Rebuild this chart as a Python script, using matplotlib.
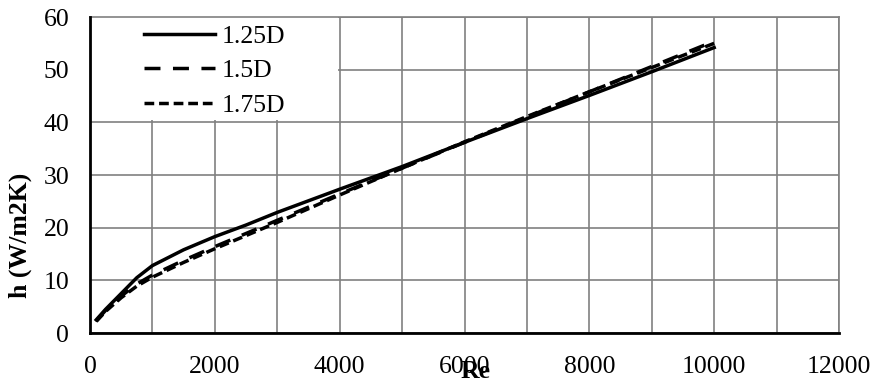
import matplotlib
matplotlib.use("Agg")
import matplotlib.pyplot as plt
from matplotlib.patches import Rectangle

re_vals = [100, 250, 500, 750, 1000, 1500, 2000, 2500, 3000, 3500, 4000, 5000, 6000, 7000, 8000, 9000, 10000]
h_125 = [2.5, 4.5, 7.5, 10.5, 12.8, 15.8, 18.3, 20.5, 22.9, 25.1, 27.3, 31.6, 36.2, 40.7, 45.1, 49.6, 54.2]
h_150 = [2.3, 4.3, 7.0, 9.3, 11.0, 13.8, 16.4, 18.9, 21.4, 23.9, 26.4, 31.3, 36.2, 41.0, 45.8, 50.6, 55.4]
h_175 = [2.2, 4.1, 6.7, 8.9, 10.6, 13.4, 16.0, 18.5, 21.0, 23.6, 26.2, 31.3, 36.3, 41.1, 45.8, 50.4, 55.0]
labels = ["1.25D", "1.5D", "1.75D"]
x_ticks = [0, 2000, 4000, 6000, 8000, 10000, 12000]
y_ticks = [0, 10, 20, 30, 40, 50, 60]

plt.rcParams['font.family'] = ['Liberation Serif', 'DejaVu Serif']
FS = 18.5

fig = plt.figure(figsize=(8.75, 3.81), dpi=100)
ax = fig.add_axes([90/875, (381-333)/381, (839-90)/875, (333-17)/381])

lw = 2.5
ax.plot(re_vals, h_125, color='black', lw=lw, linestyle='-', label=labels[0], zorder=3)
ax.plot(re_vals, h_150, color='black', lw=lw, linestyle=(0, (4.6, 3.6)), label=labels[1], zorder=3)
ax.plot(re_vals, h_175, color='black', lw=lw, linestyle=(0, (2.8, 1.4)), label=labels[2], zorder=3)

ax.set_xlim(0, 12000)
ax.set_ylim(0, 60)
ax.set_xticks(x_ticks)
ax.set_xticklabels([str(t) for t in x_ticks])
ax.set_yticks(y_ticks)
ax.set_xticks(range(0, 12001, 1000), minor=True)
ax.grid(True, which='both', color='#808080', lw=1.2, zorder=0)
ax.set_axisbelow(True)
ax.tick_params(axis='both', which='both', length=0, labelsize=FS)
ax.tick_params(axis='x', pad=16.5)
ax.tick_params(axis='y', pad=15)

for s in ['top', 'right']:
    ax.spines[s].set_color('#808080')
    ax.spines[s].set_linewidth(1.2)
for s in ['left', 'bottom']:
    ax.spines[s].set_color('black')
    ax.spines[s].set_linewidth(2.0)
    ax.spines[s].set_zorder(4)

# white legend area covering the grid
ax.add_patch(Rectangle((0, 40.35), 3980, 19.65, facecolor='white', edgecolor='none', zorder=1))

ax.set_ylabel('h (W/m2K)', fontsize=FS, fontweight='bold')
ax.yaxis.set_label_coords(-0.078, 0.31)
ax.set_xlabel('Re', fontsize=FS, fontweight='bold')
ax.xaxis.set_label_coords(0.515, -0.086)

leg = ax.legend(loc='upper left', bbox_to_anchor=((144-90)/749, 0.975), fontsize=FS,
                handlelength=2.75, handletextpad=0.27, labelspacing=0.45,
                frameon=False, borderpad=0.0, borderaxespad=0.0)
leg.set_zorder(5)

fig.savefig('out.png', dpi=100)
